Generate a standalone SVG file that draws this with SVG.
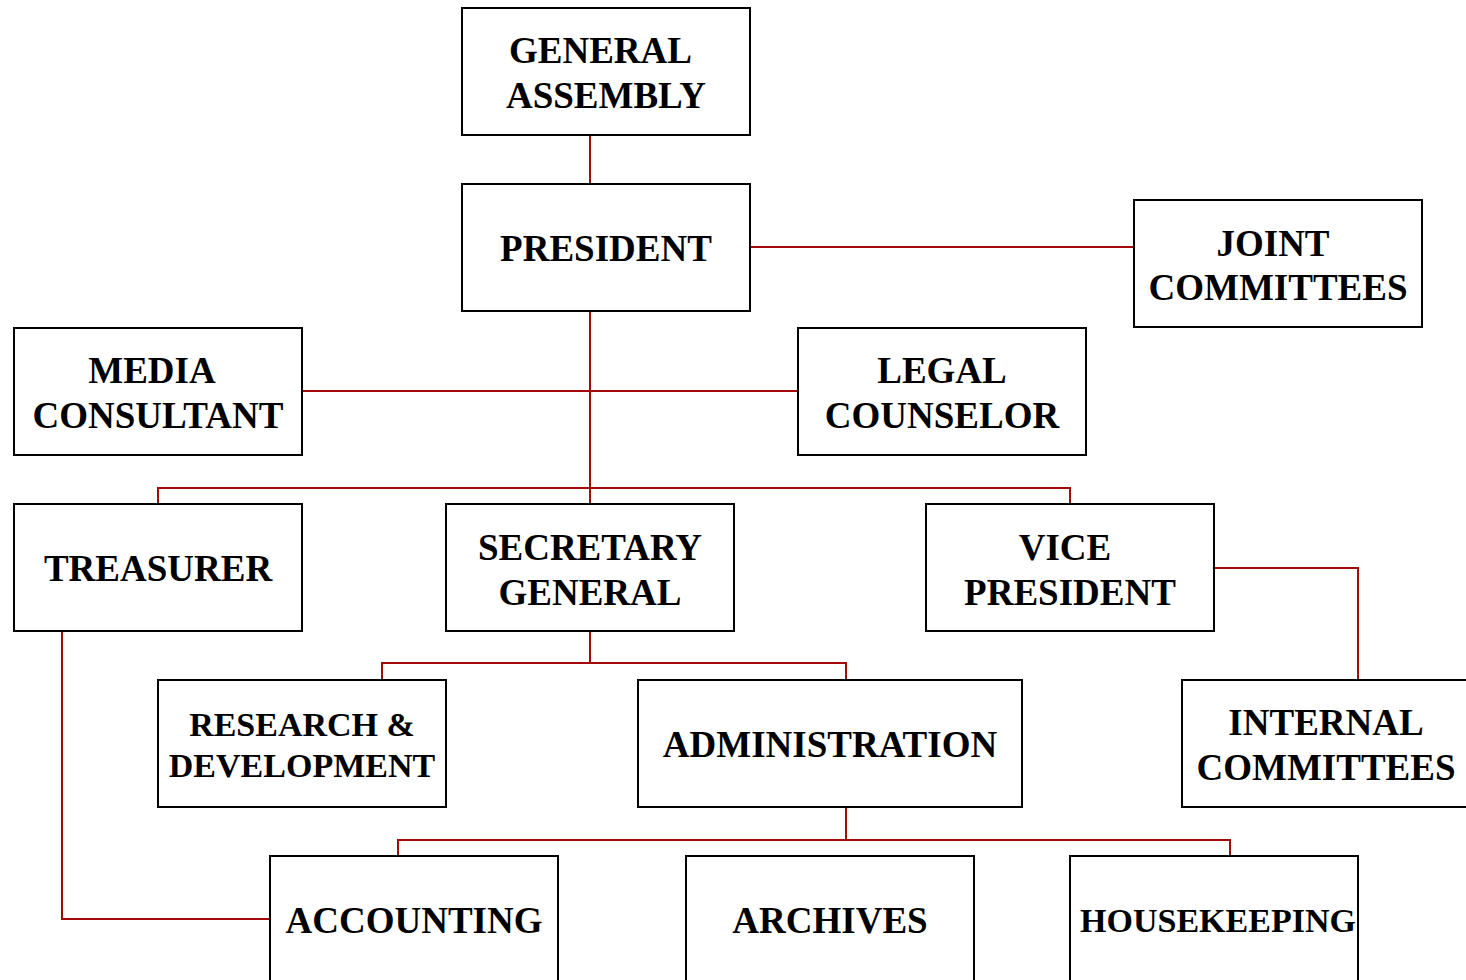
<svg xmlns="http://www.w3.org/2000/svg" width="1466" height="980" viewBox="0 0 1466 980">
<style>
.box{fill:#fff;stroke:#000;stroke-width:2}
.t{font-family:"Liberation Serif","Times New Roman",serif;font-weight:bold;font-size:37px;fill:#000;text-anchor:middle}
.s{font-size:34px}
.c{fill:none;stroke:#a50a0a;stroke-width:2}
</style>
<rect width="1466" height="980" fill="#fff"/>
<g id="connectors">
<path class="c" d="M590 135V184"/>
<path class="c" d="M750 247H1134"/>
<path class="c" d="M590 311V504"/>
<path class="c" d="M302 391H798"/>
<path class="c" d="M158 504V488H1070V504"/>
<path class="c" d="M1214 568H1358V680"/>
<path class="c" d="M590 631V663"/>
<path class="c" d="M382 680V663H846V680"/>
<path class="c" d="M846 807V840"/>
<path class="c" d="M398 856V840H1230V856"/>
<path class="c" d="M62 631V919H270"/>
</g>
<g id="general-assembly"><rect class="box" x="462" y="8" width="288" height="127"/><text class="t" x="600.5" y="63">GENERAL</text><text class="t" x="606" y="108">ASSEMBLY</text></g>
<g id="president"><rect class="box" x="462" y="184" width="288" height="127"/><text class="t" x="606" y="261">PRESIDENT</text></g>
<g id="joint-committees"><rect class="box" x="1134" y="200" width="288" height="127"/><text class="t" x="1273" y="256">JOINT</text><text class="t" x="1278" y="300">COMMITTEES</text></g>
<g id="media-consultant"><rect class="box" x="14" y="328" width="288" height="127"/><text class="t" x="152" y="383">MEDIA</text><text class="t" x="158" y="428">CONSULTANT</text></g>
<g id="legal-counselor"><rect class="box" x="798" y="328" width="288" height="127"/><text class="t" x="942" y="383">LEGAL</text><text class="t" x="942" y="428">COUNSELOR</text></g>
<g id="treasurer"><rect class="box" x="14" y="504" width="288" height="127"/><text class="t" x="158" y="581">TREASURER</text></g>
<g id="secretary-general"><rect class="box" x="446" y="504" width="288" height="127"/><text class="t" x="590" y="560">SECRETARY</text><text class="t" x="590" y="605">GENERAL</text></g>
<g id="vice-president"><rect class="box" x="926" y="504" width="288" height="127"/><text class="t" x="1065" y="560">VICE</text><text class="t" x="1070" y="605">PRESIDENT</text></g>
<g id="research-development"><rect class="box" x="158" y="680" width="288" height="127"/><text class="t s" x="302" y="736">RESEARCH &amp;</text><text class="t s" x="302" y="777">DEVELOPMENT</text></g>
<g id="administration"><rect class="box" x="638" y="680" width="384" height="127"/><text class="t" x="830" y="757">ADMINISTRATION</text></g>
<g id="internal-committees"><rect class="box" x="1182" y="680" width="288" height="127"/><text class="t" x="1326" y="735">INTERNAL</text><text class="t" x="1326" y="780">COMMITTEES</text></g>
<g id="accounting"><rect class="box" x="270" y="856" width="288" height="127"/><text class="t" x="414" y="933">ACCOUNTING</text></g>
<g id="archives"><rect class="box" x="686" y="856" width="288" height="127"/><text class="t" x="830" y="933">ARCHIVES</text></g>
<g id="housekeeping"><rect class="box" x="1070" y="856" width="288" height="127"/><text class="t s" x="1218" y="932">HOUSEKEEPING</text></g>
</svg>
